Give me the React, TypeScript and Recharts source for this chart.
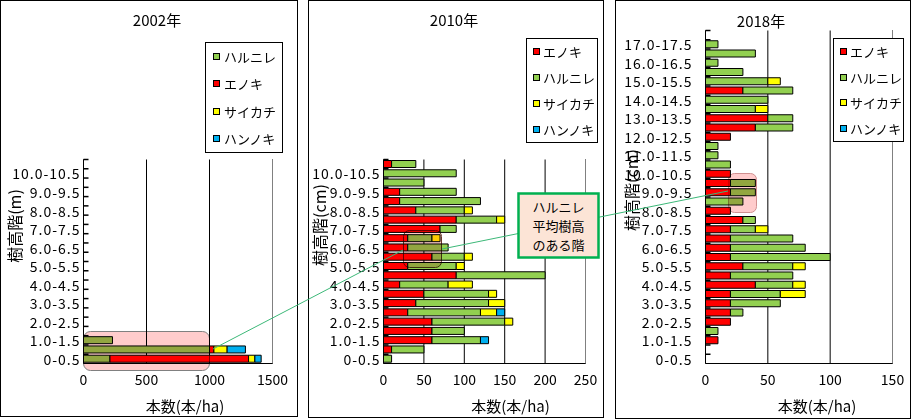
import React from 'react'
import { BarChart, Bar, XAxis, YAxis, Legend, ReferenceLine, CartesianGrid } from 'recharts'

const FONT = "'Noto Sans CJK JP', 'Noto Sans', sans-serif"

// height classes, bottom (0-0.5) first
const heightClasses = [
  '0-0.5', '0.5-1.0', '1.0-1.5', '1.5-2.0', '2.0-2.5', '2.5-3.0', '3.0-3.5', '3.5-4.0',
  '4.0-4.5', '4.5-5.0', '5.0-5.5', '5.5-6.0', '6.0-6.5', '6.5-7.0', '7.0-7.5', '7.5-8.0',
  '8.0-8.5', '8.5-9.0', '9.0-9.5', '9.5-10.0', '10.0-10.5', '10.5-11.0', '11.0-11.5', '11.5-12.0',
  '12.0-12.5', '12.5-13.0', '13.0-13.5', '13.5-14.0', '14.0-14.5', '14.5-15.0', '15.0-15.5', '15.5-16.0',
  '16.0-16.5', '16.5-17.0', '17.0-17.5', '17.5-18.0',
]
const classes11 = heightClasses.slice(0, 22)

const speciesOrder02 = ['ハルニレ', 'エノキ', 'サイカチ', 'ハンノキ']
const speciesOrder = ['エノキ', 'ハルニレ', 'サイカチ', 'ハンノキ']
const speciesColors: Record<string, string> = {
  'エノキ': '#FF0000',
  'ハルニレ': '#92D050',
  'サイカチ': '#FFFF00',
  'ハンノキ': '#00B0F0',
}

// 2002 (本/ha)
const harunire2002 = [210, 1000, 230, 0, 0, 0, 0, 0, 0, 0, 0, 0, 0, 0, 0, 0, 0, 0, 0, 0, 0, 0]
const enoki2002 = [1100, 35, 0, 0, 0, 0, 0, 0, 0, 0, 0, 0, 0, 0, 0, 0, 0, 0, 0, 0, 0, 0]
const saikachi2002 = [50, 105, 0, 0, 0, 0, 0, 0, 0, 0, 0, 0, 0, 0, 0, 0, 0, 0, 0, 0, 0, 0]
const hannoki2002 = [50, 145, 0, 0, 0, 0, 0, 0, 0, 0, 0, 0, 0, 0, 0, 0, 0, 0, 0, 0, 0, 0]

// 2010
const enoki2010 = [0, 10, 60, 60, 60, 30, 40, 50, 20, 90, 30, 60, 30, 30, 70, 90, 40, 20, 20, 0, 0, 10]
const harunire2010 = [10, 40, 60, 40, 90, 90, 90, 80, 60, 110, 60, 40, 50, 30, 20, 50, 60, 100, 70, 50, 90, 30]
const saikachi2010 = [0, 0, 0, 0, 10, 20, 20, 10, 30, 0, 10, 10, 0, 10, 0, 10, 10, 0, 0, 0, 0, 0]
const hannoki2010 = [0, 0, 10, 0, 0, 10, 0, 0, 0, 0, 0, 0, 0, 0, 0, 0, 0, 0, 0, 0, 0, 0]

// 2018
const enoki2018 = [0, 0, 10, 0, 20, 20, 20, 20, 40, 20, 30, 20, 20, 20, 20, 30, 20, 0, 20, 20, 20, 0, 0, 0, 20, 40, 50, 0, 0, 30, 0, 0, 0, 0, 0, 0]
const harunire2018 = [0, 0, 0, 10, 0, 10, 40, 40, 30, 50, 40, 80, 60, 50, 20, 10, 0, 30, 20, 20, 0, 20, 10, 10, 0, 30, 20, 40, 50, 40, 50, 30, 10, 40, 10, 0]
const saikachi2018 = [0, 0, 0, 0, 0, 0, 0, 20, 10, 0, 10, 0, 0, 0, 10, 0, 0, 0, 0, 0, 0, 0, 0, 0, 0, 0, 0, 10, 0, 0, 10, 0, 0, 0, 0, 0]
const hannoki2018 = [0, 0, 0, 0, 0, 0, 0, 0, 0, 0, 0, 0, 0, 0, 0, 0, 0, 0, 0, 0, 0, 0, 0, 0, 0, 0, 0, 0, 0, 0, 0, 0, 0, 0, 0, 0]

const calloutLines = ['ハルニレ', '平均樹高', 'のある階']

const buildRows = (cats: string[], series: Record<string, number[]>) =>
  cats.map((cls, i) => {
    const row: Record<string, any> = { cls }
    Object.keys(series).forEach((k) => { row[k] = series[k][i] })
    return row
  })

const data2002 = buildRows(classes11, { 'ハルニレ': harunire2002, 'エノキ': enoki2002, 'サイカチ': saikachi2002, 'ハンノキ': hannoki2002 })
const data2010 = buildRows(classes11, { 'エノキ': enoki2010, 'ハルニレ': harunire2010, 'サイカチ': saikachi2010, 'ハンノキ': hannoki2010 })
const data2018 = buildRows(heightClasses, { 'エノキ': enoki2018, 'ハルニレ': harunire2018, 'サイカチ': saikachi2018, 'ハンノキ': hannoki2018 })

const panels = [
  {
    title: '2002年', left: 0, width: 298, height: 417, titleX: 157, titleY: 19,
    plot: { l: 83.5, r: 272.5, t: 159.5, b: 363.5 },
    data: data2002, keys: speciesOrder02, cats: classes11,
    xMax: 1500, xTicks: [0, 500, 1000, 1500],
    yTitle: '樹高階(m)', yTitleX: 14, yTitleY: 226, xTitleDx: 7, gap: 3,
    legend: { left: 205, top: 42, width: 78, height: 111, pad: 7, space: 4 },
  },
  {
    title: '2010年', left: 308, width: 296, height: 418, titleX: 146, titleY: 19,
    plot: { l: 75.5, r: 277.5, t: 159.5, b: 363.5 },
    data: data2010, keys: speciesOrder, cats: classes11,
    xMax: 250, xTicks: [0, 50, 100, 150, 200, 250],
    yTitle: '樹高階(cm)', yTitleX: 11, yTitleY: 225, xTitleDx: 26, gap: 3,
    legend: { left: 218, top: 38, width: 72, height: 105, pad: 6, space: 3 },
  },
  {
    title: '2018年', left: 615, width: 296, height: 419, titleX: 146, titleY: 20,
    plot: { l: 90.5, r: 277.5, t: 30.5, b: 363.5 },
    data: data2018, keys: speciesOrder, cats: heightClasses,
    xMax: 150, xTicks: [0, 50, 100, 150],
    yTitle: '樹高階(cm)', yTitleX: 16, yTitleY: 190, xTitleDx: 18, gap: 13,
    legend: { left: 218, top: 38, width: 71, height: 104, pad: 6, space: 3 },
  },
]

const ClassTick = (props: any) => {
  const { payload, axisX, band, gap, cats } = props
  const y = payload.coordinate
  const idx = cats.indexOf(payload.value)
  return (
    <g>
      <line x1={axisX} x2={axisX + 5} y1={y - band / 2} y2={y - band / 2} stroke="#000" strokeWidth={1.5} />
      {idx % 2 === 0 && (
        <text x={axisX - gap} y={y} textAnchor="end" dominantBaseline="central" fontSize={14}
          fontFamily={FONT} letterSpacing={1} fill="#000">
          {payload.value}
        </text>
      )}
    </g>
  )
}

// legend keeps the stacking order (Recharts would sort it by name)
const LegendBox = ({ keys, pad, space }: any) => (
  <div style={{
    boxSizing: 'border-box', width: '100%', height: '100%', border: '1px solid #000', background: '#fff',
    display: 'flex', flexDirection: 'column', justifyContent: 'space-around', paddingLeft: pad,
    fontFamily: FONT, fontSize: 13, color: '#000',
  }}>
    {keys.map((k: string) => (
      <div key={k} style={{ display: 'flex', alignItems: 'center', height: 16, whiteSpace: 'nowrap' }}>
        <span style={{ display: 'inline-block', boxSizing: 'border-box', width: 7, height: 7, border: '1px solid #000', background: speciesColors[k], marginRight: space }} />
        {k}
      </div>
    ))}
  </div>
)

const Panel = ({ cfg }: any) => {
  const { left, width, height, plot, data, keys, cats, xMax, xTicks, title, titleX, titleY, yTitle, yTitleX, yTitleY, xTitleDx, legend, gap } = cfg
  const band = (plot.b - plot.t) / cats.length
  return (
    <div style={{ position: 'absolute', left, top: 0, width, height }}>
      <div style={{ position: 'absolute', left: 0, top: 0, width, height, border: '1px solid #000', boxSizing: 'border-box' }} />
      <div style={{ position: 'absolute', left: titleX, top: titleY, transform: 'translate(-50%, -50%)', fontSize: 15, whiteSpace: 'nowrap', fontFamily: FONT }}>
        {title}
      </div>
      <div style={{ position: 'absolute', left: 0, top: 0 }}>
        <BarChart
          layout="vertical"
          width={width}
          height={height}
          data={data}
          barSize={7}
          margin={{ top: plot.t, right: width - plot.r, bottom: height - plot.b - 30, left: 0.5 }}
        >
          <CartesianGrid horizontal={false} stroke="#000" />
          <XAxis
            type="number"
            domain={[0, xMax]}
            ticks={xTicks}
            height={30}
            tickLine={false}
            tickSize={0}
            tickMargin={12}
            axisLine={{ stroke: '#000' }}
            tick={{ fill: '#000', fontSize: 14, fontFamily: FONT }}
            label={{
              content: (p: any) => (
                <text x={p.viewBox.x + p.viewBox.width / 2 + xTitleDx} y={p.viewBox.y + 42} textAnchor="middle"
                  dominantBaseline="central" fontSize={15} fontFamily={FONT} fill="#000">
                  本数(本/ha)
                </text>
              ),
            }}
          />
          <XAxis xAxisId="top" orientation="top" type="number" domain={[0, xMax]} height={0}
            tick={false} tickLine={false} axisLine={{ stroke: '#808080' }} />
          <YAxis
            type="category"
            dataKey="cls"
            reversed
            interval={0}
            width={plot.l - 0.5}
            tickLine={false}
            tickSize={0}
            axisLine={{ stroke: '#000' }}
            tick={(p: any) => <ClassTick {...p} axisX={plot.l} band={band} gap={gap} cats={cats} />}
            label={{
              content: () => (
                <text transform={`translate(${yTitleX},${yTitleY}) rotate(-90)`} textAnchor="middle"
                  dominantBaseline="central" fontSize={16} fontFamily={FONT} fill="#000">
                  {yTitle}
                </text>
              ),
            }}
          />
          <ReferenceLine x={xMax} stroke="#808080" />
          {keys.map((k: string) => (
            <Bar key={k} dataKey={k} name={k} stackId="s" fill={speciesColors[k]} stroke="#000" strokeWidth={1} isAnimationActive={false} />
          ))}
          <Legend
            layout="vertical"
            align="center"
            verticalAlign="middle"
            wrapperStyle={{ left: legend.left, top: legend.top, width: legend.width, height: legend.height }}
            content={() => <LegendBox keys={keys} pad={legend.pad} space={legend.space} />}
          />
        </BarChart>
      </div>
    </div>
  )
}

export default function App() {
  return (
    <div style={{ position: 'absolute', left: 0, top: 0, width: 912, height: 420, background: '#fff', overflow: 'hidden', fontFamily: FONT }}>
      {panels.map((cfg) => <Panel key={cfg.title} cfg={cfg} />)}
      {/* highlight boxes: multiply so bars show through */}
      <svg width={912} height={420} style={{ position: 'absolute', left: 0, top: 0, mixBlendMode: 'multiply', pointerEvents: 'none' }}>
        <rect x={83.5} y={331.5} width={126} height={39} rx={7} fill="#FFCCCC" stroke="#808080" />
        <rect x={403.5} y={230.5} width={38} height={37} rx={6} fill="#FFCCCC" stroke="#6A3A2A" />
        <rect x={728.5} y={173.5} width={28} height={39} rx={6} fill="#FFCCCC" stroke="#D09090" />
      </svg>
      <svg width={912} height={420} style={{ position: 'absolute', left: 0, top: 0, pointerEvents: 'none' }}>
        <line x1={213} y1={349} x2={403} y2={250} stroke="#3CB878" strokeWidth={1} />
        <line x1={442} y1={249} x2={728} y2={191} stroke="#3CB878" strokeWidth={1} />
        <rect x={518.5} y={193.5} width={80} height={64} fill="#FCE4D6" stroke="#00B050" strokeWidth={2.5} />
        {calloutLines.map((t, i) => (
          <text key={t} x={558.5} y={206.5 + i * 19} textAnchor="middle" dominantBaseline="central"
            fontSize={13} fontFamily={FONT} fill="#000">
            {t}
          </text>
        ))}
      </svg>
    </div>
  )
}
